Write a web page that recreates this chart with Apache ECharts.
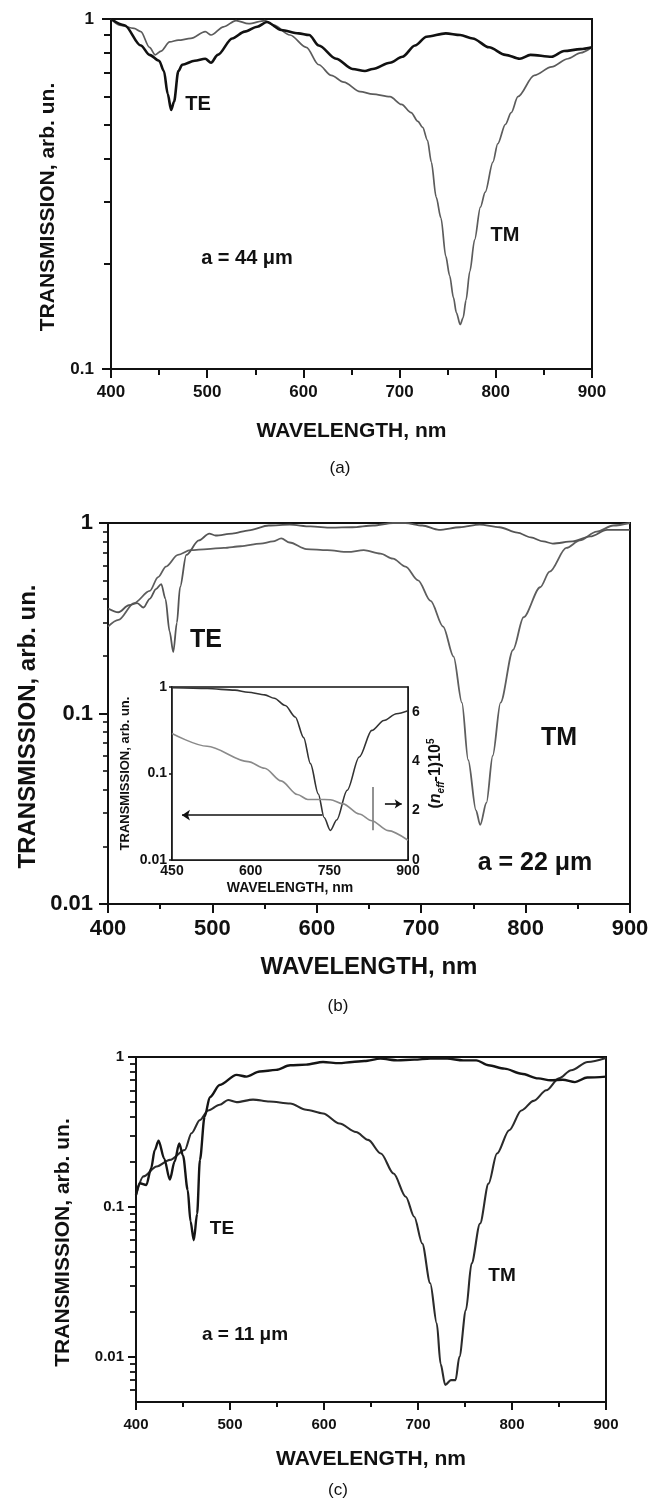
<!DOCTYPE html>
<html lang="en">
<head>
<meta charset="UTF-8">
<title>Transmission spectra, a = 44, 22, 11 um</title>
<script src="https://cdn.jsdelivr.net/npm/echarts@6.0.0/dist/echarts.min.js"></script>
<style>
  html, body { margin: 0; padding: 0; background: #fff; }
  #chart { width: 648px; height: 1510px; }
</style>
</head>
<body>
<div id="chart"></div>
<script>
// ---- panel (a), a = 44 um ----
const aTeWl = [400, 414, 431, 440, 450, 455, 459, 462.5, 465.5, 470, 474, 487, 498, 504, 511, 526, 539, 552, 562, 577, 595, 606, 616, 634, 651, 664, 672, 690, 703, 716, 728, 748, 763, 776, 793, 810, 825, 836, 858, 871, 888, 900];
const aTeT  = [1.0, 0.96, 0.84, 0.79, 0.76, 0.71, 0.61, 0.55, 0.58, 0.71, 0.74, 0.76, 0.77, 0.75, 0.79, 0.88, 0.92, 0.95, 0.98, 0.93, 0.91, 0.90, 0.84, 0.77, 0.72, 0.71, 0.72, 0.75, 0.78, 0.84, 0.89, 0.91, 0.90, 0.88, 0.83, 0.79, 0.77, 0.79, 0.78, 0.81, 0.82, 0.83];
const aTmWl = [400, 409, 424, 431, 440, 446, 452, 461, 470, 483, 498, 504, 517, 530, 543, 560, 569, 586, 603, 616, 629, 642, 659, 672, 690, 702, 712, 719, 724, 729, 733, 738, 743, 748, 752, 756, 759, 763, 766, 769, 773, 778, 784, 789, 797, 802, 810, 816, 823, 840, 858, 875, 888, 900];
const aTmT  = [1.0, 0.96, 0.94, 0.92, 0.83, 0.79, 0.81, 0.86, 0.87, 0.88, 0.92, 0.90, 0.95, 0.99, 0.97, 0.99, 0.96, 0.90, 0.83, 0.74, 0.69, 0.66, 0.62, 0.61, 0.60, 0.57, 0.54, 0.51, 0.49, 0.45, 0.39, 0.31, 0.27, 0.21, 0.185, 0.16, 0.145, 0.134, 0.14, 0.157, 0.19, 0.234, 0.29, 0.32, 0.39, 0.44, 0.50, 0.54, 0.60, 0.69, 0.73, 0.77, 0.80, 0.83];

// ---- panel (b), a = 22 um ----
const bTeWl = [400, 410, 420, 428, 434, 440, 446, 451, 455, 459, 462.5, 466, 469, 475, 487, 497, 503, 519, 535, 554, 574, 594, 614, 634, 654, 673, 685, 701, 717, 737, 756, 775, 792, 805, 817, 826, 845, 862, 878, 900];
const bTeT  = [0.356, 0.34, 0.37, 0.38, 0.36, 0.40, 0.45, 0.478, 0.40, 0.27, 0.21, 0.30, 0.46, 0.68, 0.81, 0.88, 0.86, 0.88, 0.915, 0.97, 0.98, 0.96, 0.945, 0.95, 0.97, 1.0, 1.0, 0.97, 0.92, 0.95, 0.98, 0.95, 0.89, 0.84, 0.80, 0.78, 0.80, 0.85, 0.92, 0.92];
const bTmWl = [400, 410, 425, 440, 448, 455.5, 467, 479, 495, 511, 527, 546, 558, 566, 574, 590, 610, 630, 645, 661, 673, 685, 697, 709, 721, 731, 739, 745, 752.5, 756.5, 762.5, 768.5, 776, 788, 798, 814, 823, 839, 852, 868, 884, 900];
const bTmT  = [0.286, 0.31, 0.38, 0.44, 0.52, 0.59, 0.68, 0.72, 0.73, 0.74, 0.755, 0.78, 0.80, 0.83, 0.79, 0.73, 0.72, 0.705, 0.72, 0.69, 0.65, 0.59, 0.50, 0.39, 0.286, 0.199, 0.114, 0.057, 0.031, 0.026, 0.034, 0.060, 0.114, 0.216, 0.32, 0.46, 0.555, 0.74, 0.81, 0.90, 0.97, 1.0];

// ---- inset of (b): calculated transmission and (n_eff - 1) 10^5 ----
const insWl = [450, 517, 570, 595, 627, 645, 666, 685, 701, 714, 729, 740, 752, 764, 784, 807, 831, 854, 878, 900];
const insT  = [0.98, 0.96, 0.92, 0.87, 0.81, 0.74, 0.61, 0.45, 0.26, 0.13, 0.058, 0.031, 0.022, 0.029, 0.064, 0.155, 0.315, 0.41, 0.49, 0.53];
const insNWl = [450, 517, 595, 627, 658, 689, 709, 729, 752, 776, 807, 831, 862, 900];
const insN   = [5.12, 4.6, 3.98, 3.71, 3.2, 2.65, 2.45, 2.45, 2.44, 2.27, 1.86, 1.59, 1.19, 0.8];

// ---- panel (c), a = 11 um ----
const cTeWl = [400, 404, 411, 416, 420, 424, 430, 436, 441, 446, 450, 455, 458, 461.5, 465, 468, 473, 478.6, 489, 507, 517.5, 531.6, 549, 564, 581, 599, 616, 630, 643, 660, 678, 696, 713, 731, 748, 762, 775, 792, 810, 828, 841, 854, 867, 880, 900];
const cTeT  = [0.12, 0.144, 0.14, 0.18, 0.24, 0.277, 0.21, 0.152, 0.2, 0.265, 0.22, 0.13, 0.08, 0.06, 0.09, 0.206, 0.40, 0.54, 0.65, 0.76, 0.74, 0.80, 0.82, 0.88, 0.89, 0.926, 0.91, 0.926, 0.94, 0.975, 0.95, 0.96, 0.975, 0.975, 0.95, 0.95, 0.88, 0.836, 0.774, 0.72, 0.70, 0.705, 0.68, 0.73, 0.74];
const cTmWl = [400, 408, 422, 436, 452, 459, 468, 476.7, 489, 498, 507, 524.5, 542, 564, 581, 599, 616.5, 634, 647, 660.5, 674, 687, 696, 704.5, 713, 720, 724, 729, 735, 740, 744, 751, 757, 766, 775, 784, 797, 810, 823, 836.5, 850, 863, 880.5, 900];
const cTmT  = [0.12, 0.16, 0.186, 0.206, 0.24, 0.31, 0.38, 0.44, 0.48, 0.517, 0.50, 0.52, 0.505, 0.49, 0.445, 0.42, 0.36, 0.316, 0.28, 0.227, 0.167, 0.117, 0.086, 0.057, 0.031, 0.0167, 0.009, 0.0065, 0.007, 0.007, 0.01, 0.0205, 0.042, 0.0775, 0.143, 0.227, 0.325, 0.44, 0.51, 0.60, 0.72, 0.815, 0.926, 0.985];

// tick values
const decA = [0.1, 1];
const decB = [0.01, 0.1, 1];
const decC = [0.01, 0.1, 1];
const minorA = [0.2, 0.3, 0.4, 0.5, 0.6, 0.7, 0.8, 0.9];
const minorB = [0.02, 0.03, 0.04, 0.05, 0.06, 0.07, 0.08, 0.09, 0.2, 0.3, 0.4, 0.5, 0.6, 0.7, 0.8, 0.9];
const minorC = [0.006, 0.007, 0.008, 0.009].concat(minorB);
const insRightTicks = [0, 2, 4, 6];

const FONT = 'Liberation Sans, Arial, Helvetica, sans-serif';
const INK = '#111';

function zip(xs, ys) {
    return xs.map((x, i) => [x, ys[i]]);
}

function fmtLog(v) {
    return v >= 1 ? '1' : String(+Number(v).toPrecision(2));
}

function wlAxis(gridIndex, o) {
    const lw = o.lw || 2;
    return {
        type: 'value', gridIndex: gridIndex,
        min: o.min, max: o.max, interval: o.interval,
        name: 'WAVELENGTH, nm', nameLocation: 'middle', nameGap: o.nameGap, nameMoveOverlap: false,
        nameTextStyle: { fontFamily: FONT, fontWeight: 'bold', fontSize: o.nameSize, color: INK },
        axisLine: { show: true, onZero: false, lineStyle: { color: INK, width: lw } },
        axisTick: { show: true, length: o.tick, inside: !!o.inside, lineStyle: { color: INK, width: lw } },
        minorTick: { show: true, splitNumber: 2, length: o.minor, lineStyle: { color: INK, width: lw } },
        axisLabel: { fontFamily: FONT, fontWeight: 'bold', fontSize: o.size, color: INK, margin: o.margin, showMinLabel: true, showMaxLabel: true },
        splitLine: { show: false }, minorSplitLine: { show: false }
    };
}

function logAxis(gridIndex, o) {
    const lw = o.lw || 2;
    return {
        type: 'log', logBase: 10, gridIndex: gridIndex, position: 'left',
        min: o.min, max: o.max,
        name: o.name || '', nameLocation: 'middle', nameGap: o.nameGap, nameRotate: 90, nameMoveOverlap: false,
        nameTextStyle: { fontFamily: FONT, fontWeight: 'bold', fontSize: o.nameSize, color: INK, padding: o.namePad || 0 },
        axisLine: { show: true, onZero: false, lineStyle: { color: INK, width: lw } },
        axisTick: { show: true, length: o.tick, customValues: o.ticks, lineStyle: { color: INK, width: lw } },
        axisLabel: { fontFamily: FONT, fontWeight: 'bold', fontSize: o.size, color: INK, margin: o.margin, customValues: o.ticks, formatter: fmtLog },
        splitLine: { show: false }
    };
}

function minorLogAxis(gridIndex, o) {
    return {
        type: 'log', logBase: 10, gridIndex: gridIndex, position: 'left',
        min: o.min, max: o.max,
        axisLine: { show: false },
        axisTick: { show: true, length: o.len, inside: !!o.inside, customValues: o.ticks, lineStyle: { color: INK, width: o.lw || 1.6 } },
        axisLabel: { show: false },
        splitLine: { show: false }
    };
}

function curve(name, xi, yi, wl, vals, color, width) {
    return {
        type: 'line', name: name, xAxisIndex: xi, yAxisIndex: yi,
        data: zip(wl, vals),
        showSymbol: false, symbol: 'none',
        smooth: 0.3, smoothMonotone: 'x',
        lineStyle: { color: color, width: width },
        itemStyle: { color: color },
        silent: true, z: 3
    };
}

function note(text, x, y, size, weight) {
    return {
        type: 'text', x: x, y: y, z: 20, silent: true,
        style: {
            text: text, fill: INK, fontFamily: FONT, fontSize: size, fontWeight: weight || 'bold',
            align: 'center', verticalAlign: 'middle', textAlign: 'center', textVerticalAlign: 'middle'
        }
    };
}

const box = { show: true, borderColor: INK, borderWidth: 2, backgroundColor: 'transparent', outerBoundsMode: 'none', containLabel: false };

const chart = echarts.init(document.getElementById('chart'), null, { renderer: 'canvas' });

chart.setOption({
    backgroundColor: '#fff',
    animation: false,
    grid: [
        Object.assign({ left: 111, top: 19, width: 481, height: 350 }, box),
        Object.assign({ left: 108, top: 523, width: 522, height: 381 }, box),
        Object.assign({ left: 172, top: 687, width: 236, height: 173 }, box, { backgroundColor: '#fff', borderWidth: 1.6, z: 5 }),
        Object.assign({ left: 136, top: 1057, width: 470, height: 345 }, box)
    ],
    xAxis: [
        wlAxis(0, { min: 400, max: 900, interval: 100, size: 17, margin: 15, tick: 9, minor: 6, nameSize: 21, nameGap: 52 }),
        wlAxis(1, { min: 400, max: 900, interval: 100, size: 22, margin: 14, tick: 9, minor: 5, nameSize: 24, nameGap: 51 }),
        wlAxis(2, { min: 450, max: 900, interval: 150, size: 14, margin: 4, tick: 4, minor: 3, inside: true, lw: 1.5, nameSize: 14, nameGap: 21 }),
        wlAxis(3, { min: 400, max: 900, interval: 100, size: 15, margin: 15, tick: 8, minor: 5, nameSize: 21, nameGap: 47 })
    ],
    yAxis: [
        logAxis(0, { min: 0.1, max: 1, ticks: decA, size: 17, margin: 17, tick: 9, name: 'TRANSMISSION, arb. un.', nameSize: 21, nameGap: 52, namePad: [0, 26, 0, 0] }),
        minorLogAxis(0, { min: 0.1, max: 1, ticks: minorA, len: 7, lw: 2 }),
        logAxis(1, { min: 0.01, max: 1, ticks: decB, size: 22, margin: 15, tick: 9, name: 'TRANSMISSION, arb. un.', nameSize: 24, nameGap: 68, namePad: [0, 26, 0, 0] }),
        minorLogAxis(1, { min: 0.01, max: 1, ticks: minorB, len: 5, lw: 1.6 }),
        logAxis(2, { min: 0.01, max: 1, ticks: decB, size: 14, margin: 5, tick: 3, lw: 1.5, name: 'TRANSMISSION, arb. un.', nameSize: 13, nameGap: 40 }),
        {
            type: 'value', gridIndex: 2, position: 'right', min: 0, max: 7, interval: 2,
            name: '{p|(}{i|n}{s|eff}{p|-1)10}{u|5}', nameLocation: 'middle', nameGap: 18, nameRotate: 90, nameMoveOverlap: false,
            nameTextStyle: {
                color: INK,
                rich: {
                    p: { fontFamily: FONT, fontWeight: 'bold', fontSize: 16, color: INK, lineHeight: 20 },
                    i: { fontFamily: FONT, fontWeight: 'bold', fontStyle: 'italic', fontSize: 16, color: INK, lineHeight: 20 },
                    s: { fontFamily: FONT, fontWeight: 'bold', fontStyle: 'italic', fontSize: 10, color: INK, lineHeight: 20, verticalAlign: 'bottom' },
                    u: { fontFamily: FONT, fontWeight: 'bold', fontSize: 10, color: INK, lineHeight: 20, verticalAlign: 'top' }
                }
            },
            axisLine: { show: true, lineStyle: { color: INK, width: 1.5 } },
            axisTick: { show: true, inside: true, length: 4, customValues: insRightTicks, lineStyle: { color: INK, width: 1.5 } },
            axisLabel: { fontFamily: FONT, fontWeight: 'bold', fontSize: 14, color: INK, margin: 4, customValues: insRightTicks },
            splitLine: { show: false }
        },
        logAxis(3, { min: 0.005, max: 1, ticks: decC, size: 15, margin: 12, tick: 8, name: 'TRANSMISSION, arb. un.', nameSize: 21, nameGap: 62, namePad: [0, 26, 0, 0] }),
        minorLogAxis(3, { min: 0.005, max: 1, ticks: minorC, len: 6, lw: 1.8 })
    ],
    series: [
        curve('TM (a)', 0, 0, aTmWl, aTmT, '#5c5c5c', 1.7),
        curve('TE (a)', 0, 0, aTeWl, aTeT, '#111', 2.6),
        curve('TM (b)', 1, 2, bTmWl, bTmT, '#5e5e5e', 1.8),
        curve('TE (b)', 1, 2, bTeWl, bTeT, '#555', 1.8),
        Object.assign(curve('T inset', 2, 4, insWl, insT, '#333', 1.6), {
            z: 8,
            markLine: {
                silent: true, symbol: ['none', 'arrow'], symbolSize: 8,
                label: { show: false },
                lineStyle: { color: INK, width: 1.6, type: 'solid' },
                data: [[{ coord: [737, 0.033] }, { coord: [469, 0.033] }]]
            }
        }),
        Object.assign(curve('n_eff inset', 2, 5, insNWl, insN, '#8a8a8a', 1.6), {
            z: 8,
            markLine: {
                silent: true, symbol: ['none', 'arrow'], symbolSize: 7,
                label: { show: false },
                lineStyle: { color: INK, width: 1.6, type: 'solid' },
                data: [
                    [{ coord: [856, 2.27] }, { coord: [888, 2.27] }],
                    [{ coord: [833, 1.2], symbol: 'none', lineStyle: { color: '#777', width: 1.6 } }, { coord: [833, 2.95], symbol: 'none' }]
                ]
            }
        }),
        curve('TM (c)', 3, 6, cTmWl, cTmT, '#2b2b2b', 2.1),
        curve('TE (c)', 3, 6, cTeWl, cTeT, '#151515', 2.4)
    ],
    graphic: [
        note('TE', 198, 104, 20),
        note('TM', 505, 235, 20),
        note('a = 44 \u03bcm', 247, 258, 20),
        note('(a)', 340, 468, 17, 'normal'),
        note('TE', 206, 640, 25),
        note('TM', 559, 738, 25),
        note('a = 22 \u03bcm', 535, 863, 25),
        note('(b)', 338, 1006, 17, 'normal'),
        note('TE', 222, 1229, 19),
        note('TM', 502, 1276, 19),
        note('a = 11 \u03bcm', 245, 1335, 19),
        note('(c)', 338, 1490, 17, 'normal')
    ]
});
</script>
</body>
</html>
